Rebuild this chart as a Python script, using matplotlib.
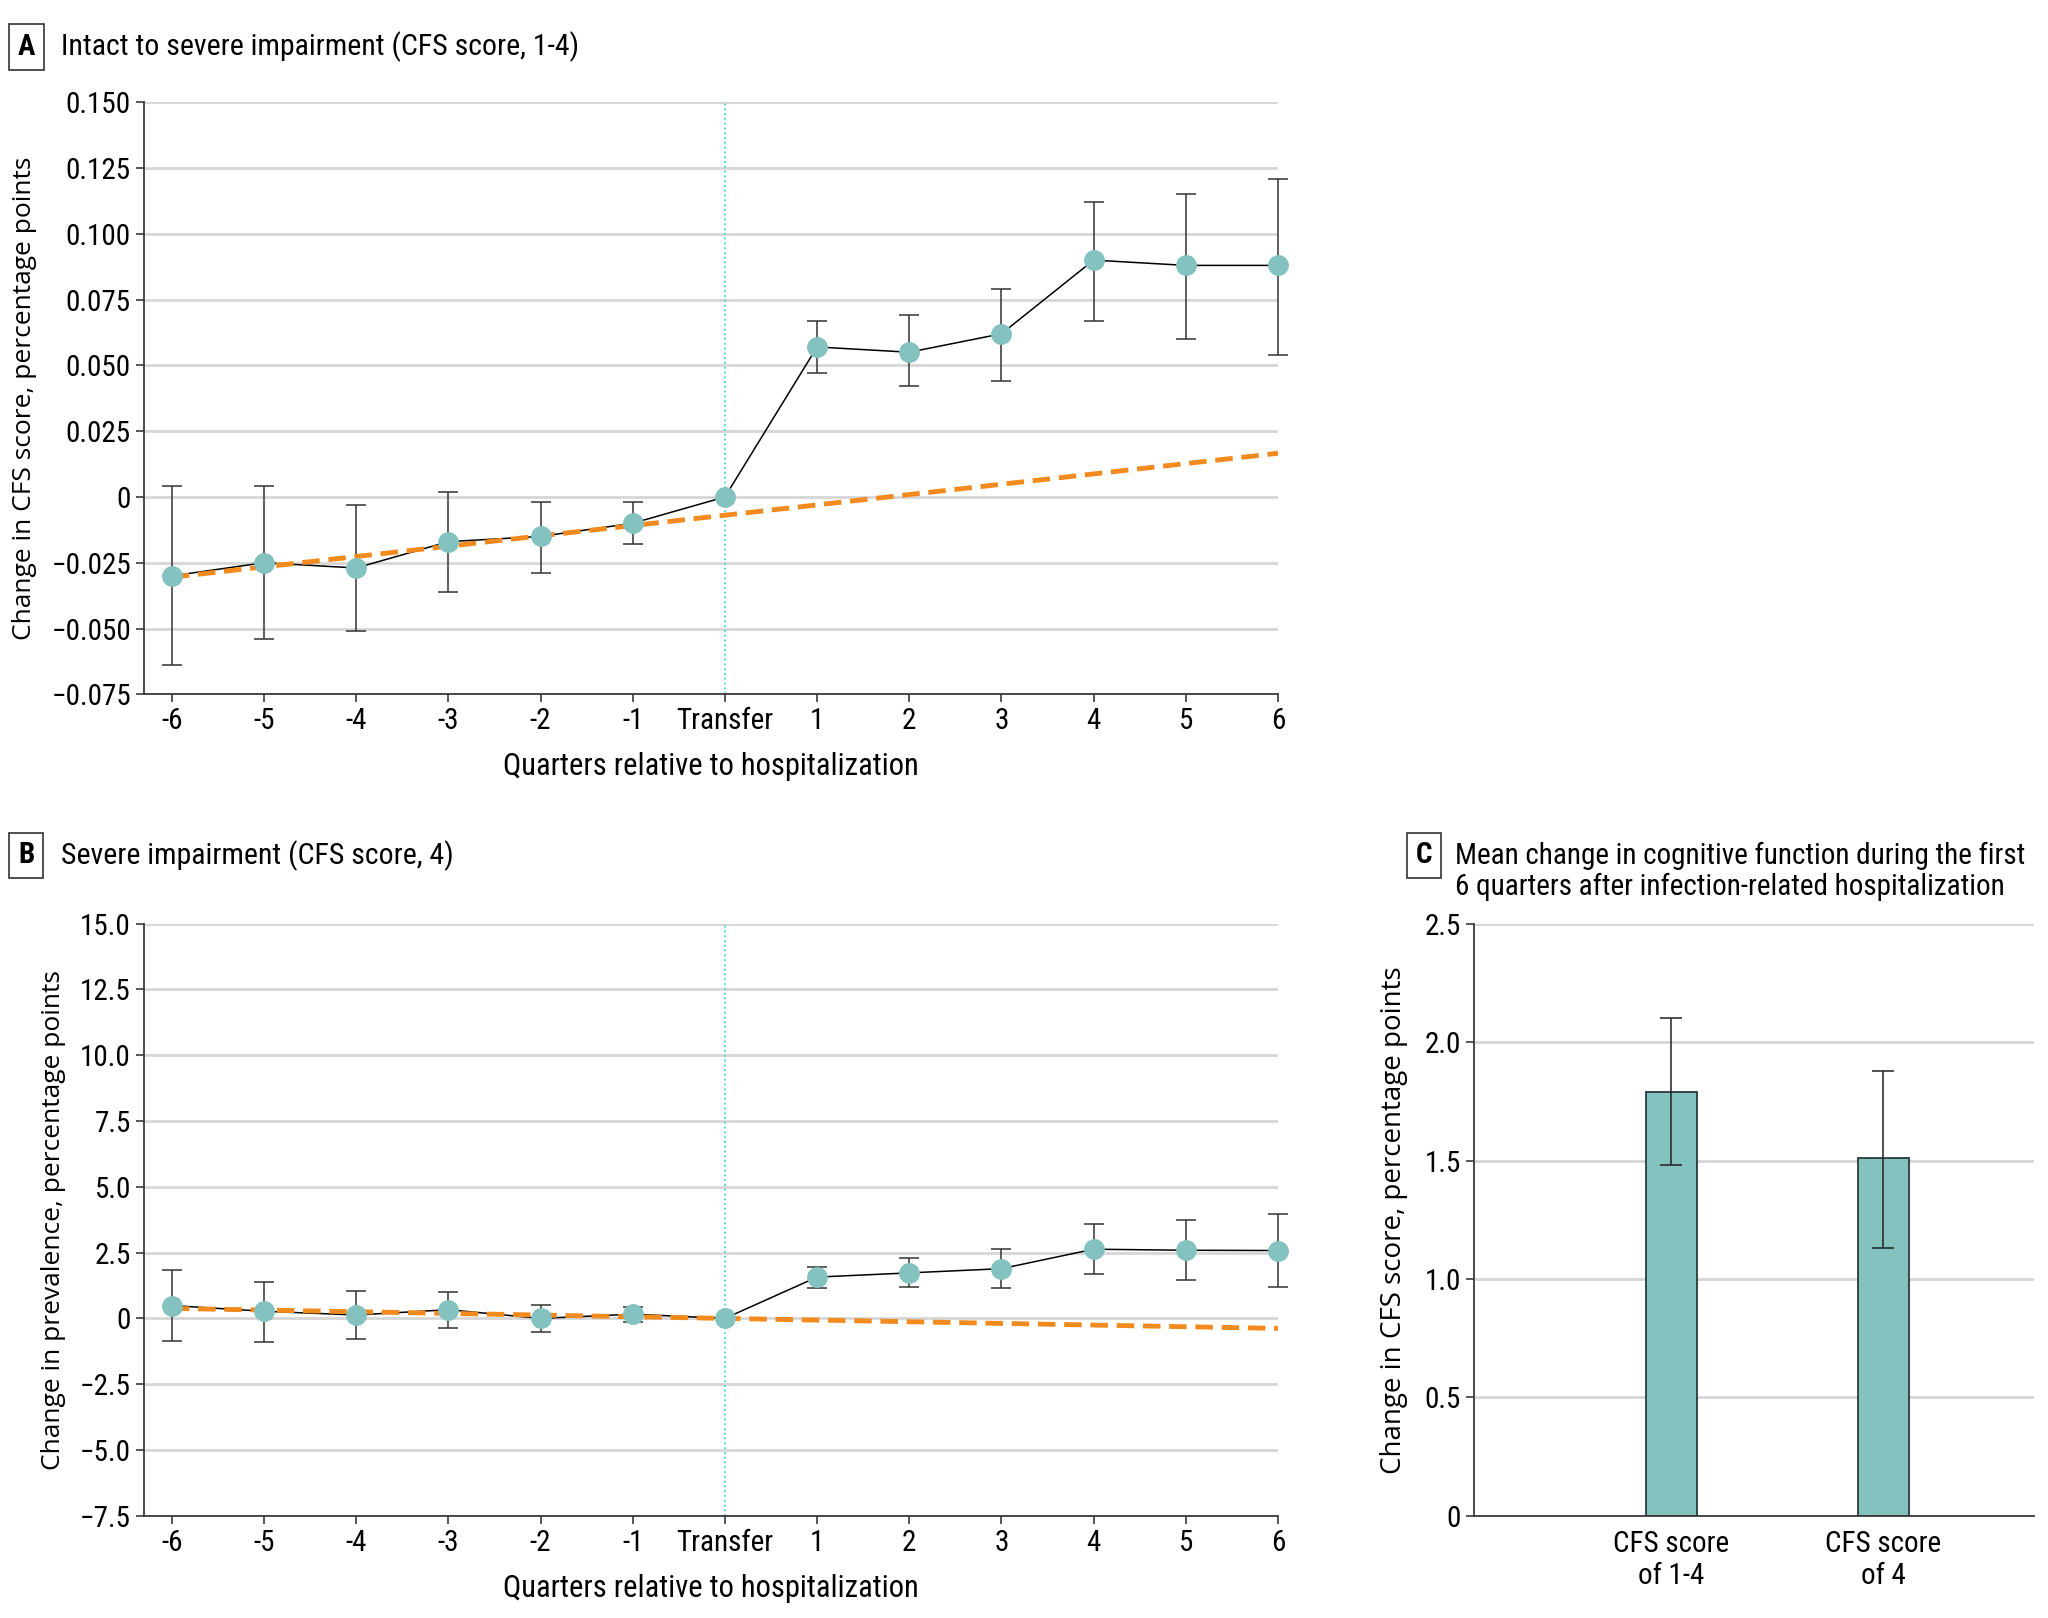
import matplotlib
matplotlib.use("Agg")
import matplotlib.pyplot as plt

plt.rcParams['font.family'] = ['Roboto Condensed', 'Fira Sans Condensed', 'Source Sans 3',
                               'Liberation Sans Narrow', 'DejaVu Sans']
WIDE = ['Open Sans', 'DejaVu Sans']

# quarters relative to hospitalization (0 = transfer)
quarters = [-6, -5, -4, -3, -2, -1, 0, 1, 2, 3, 4, 5, 6]
quarter_labels = ['-6', '-5', '-4', '-3', '-2', '-1', 'Transfer', '1', '2', '3', '4', '5', '6']

# panel A: CFS score 1-4
a_est = [-0.030, -0.025, -0.027, -0.017, -0.015, -0.010, 0.000, 0.057, 0.055, 0.062, 0.090, 0.088, 0.088]
a_low = [-0.064, -0.054, -0.051, -0.036, -0.029, -0.018, 0.000, 0.047, 0.042, 0.044, 0.067, 0.060, 0.054]
a_high = [0.004, 0.004, -0.003, 0.002, -0.002, -0.002, 0.000, 0.067, 0.069, 0.079, 0.112, 0.115, 0.121]
a_trend_x = [-6, 6]
a_trend_y = [-0.0305, 0.0166]
a_ticks = [-0.075, -0.050, -0.025, 0, 0.025, 0.050, 0.075, 0.100, 0.125, 0.150]
a_ticklabels = ['\u22120.075', '\u22120.050', '\u22120.025', '0', '0.025', '0.050', '0.075', '0.100', '0.125', '0.150']

# panel B: CFS score 4
b_est = [0.49, 0.27, 0.13, 0.33, 0.00, 0.16, 0.00, 1.57, 1.73, 1.89, 2.63, 2.59, 2.58]
b_low = [-0.86, -0.89, -0.80, -0.38, -0.51, -0.13, 0.00, 1.17, 1.18, 1.17, 1.69, 1.45, 1.21]
b_high = [1.85, 1.40, 1.05, 1.02, 0.51, 0.44, 0.00, 1.94, 2.30, 2.64, 3.58, 3.74, 3.96]
b_trend_x = [-6, 6]
b_trend_y = [0.38, -0.38]
b_ticks = [-7.5, -5.0, -2.5, 0, 2.5, 5.0, 7.5, 10.0, 12.5, 15.0]
b_ticklabels = ['\u22127.5', '\u22125.0', '\u22122.5', '0', '2.5', '5.0', '7.5', '10.0', '12.5', '15.0']

# panel C: mean change
c_labels = ['CFS score\nof 1-4', 'CFS score\nof 4']
c_means = [1.79, 1.51]
c_low = [1.48, 1.13]
c_high = [2.10, 1.88]
c_ticks = [0, 0.5, 1.0, 1.5, 2.0, 2.5]
c_ticklabels = ['0', '0.5', '1.0', '1.5', '2.0', '2.5']

teal = '#84c2bf'
orange = '#f28a1e'
grid_c = '#d6d6d6'
spine_c = '#3a3a3a'
FS = 21


def style_axes(ax):
    for s in ['top', 'right']:
        ax.spines[s].set_visible(False)
    for s in ['left', 'bottom']:
        ax.spines[s].set_color(spine_c)
        ax.spines[s].set_linewidth(1.3)
    ax.yaxis.grid(True, color=grid_c, linewidth=2)
    ax.set_axisbelow(True)
    ax.tick_params(axis='both', colors=spine_c, labelcolor='black', labelsize=FS,
                   length=6, width=1.2, direction='out')


def event_plot(ax, est, low, high, trend_x, trend_y, ticks, ticklabels, ylabel):
    style_axes(ax)
    ax.axvline(0, color='#3fd6d6', linestyle=':', linewidth=1.3, zorder=1)
    ax.plot(trend_x, trend_y, color=orange, linestyle=(0, (3.6, 1.8)), linewidth=3.5, zorder=3)
    ax.plot(quarters, est, color='black', linewidth=1.1, zorder=2)
    err_x = [q for q in quarters if q != 0]
    err_y = [e for q, e in zip(quarters, est) if q != 0]
    err_lo = [e - l for q, e, l in zip(quarters, est, low) if q != 0]
    err_hi = [h - e for q, e, h in zip(quarters, est, high) if q != 0]
    eb = ax.errorbar(err_x, err_y, yerr=[err_lo, err_hi], fmt='none', ecolor='#333333',
                     elinewidth=1.1, capsize=7, capthick=1.1, zorder=2)
    for art in eb.lines[1] + eb.lines[2]:
        art.set_clip_on(False)
    ax.plot(quarters, est, linestyle='none', marker='o', markersize=14,
            markerfacecolor=teal, markeredgecolor=teal, zorder=4, clip_on=False)
    ax.set_xlim(-6.3, 6)
    ax.set_ylim(ticks[0], ticks[-1])
    ax.set_yticks(ticks)
    ax.set_yticklabels(ticklabels)
    ax.set_xticks(quarters)
    ax.set_xticklabels(quarter_labels)
    ax.set_xlabel('Quarters relative to hospitalization', fontsize=FS + 1, labelpad=12)
    ax.set_ylabel(ylabel, fontsize=FS - 2, labelpad=10, family=WIDE)


fig = plt.figure(figsize=(20.48, 16.18), dpi=100)

ax_a = fig.add_axes([0.0704, 0.5709, 0.5536, 0.3659])
ax_b = fig.add_axes([0.0704, 0.0632, 0.5536, 0.3659])
ax_c = fig.add_axes([0.7198, 0.0632, 0.2732, 0.3659])

event_plot(ax_a, a_est, a_low, a_high, a_trend_x, a_trend_y, a_ticks, a_ticklabels,
           'Change in CFS score, percentage points')
event_plot(ax_b, b_est, b_low, b_high, b_trend_x, b_trend_y, b_ticks, b_ticklabels,
           'Change in prevalence, percentage points')

# panel C bars
style_axes(ax_c)
xpos = list(range(len(c_means)))
c_err = [[m - l for m, l in zip(c_means, c_low)], [h - m for m, h in zip(c_means, c_high)]]
ax_c.bar(xpos, c_means, width=0.24, color=teal, edgecolor='#2a3a3a', linewidth=1.3, zorder=2)
ax_c.errorbar(xpos, c_means, yerr=c_err, fmt='none', ecolor='#222222', elinewidth=1.1,
              capsize=8, capthick=1.1, zorder=3)
ax_c.set_xlim(-0.93, 1.71)
ax_c.set_ylim(0, 2.5)
ax_c.set_yticks(c_ticks)
ax_c.set_yticklabels(c_ticklabels)
ax_c.set_xticks(xpos)
ax_c.set_xticklabels(c_labels)
ax_c.tick_params(axis='x', length=0, pad=10)
ax_c.set_ylabel('Change in CFS score, percentage points', fontsize=FS - 1, labelpad=12,
                family=WIDE)

# panel headings
TFS = FS + 0.5
box = dict(boxstyle='square,pad=0.3', facecolor='white', edgecolor='#333333', linewidth=1.2)
fig.text(0.0128, 0.9709, 'A', fontsize=FS, fontweight='bold', ha='center', va='center', bbox=box)
fig.text(0.030, 0.9709, 'Intact to severe impairment (CFS score, 1-4)', fontsize=TFS,
         ha='left', va='center')
fig.text(0.0128, 0.4713, 'B', fontsize=FS, fontweight='bold', ha='center', va='center', bbox=box)
fig.text(0.030, 0.4713, 'Severe impairment (CFS score, 4)', fontsize=TFS,
         ha='left', va='center')
fig.text(0.6955, 0.4713, 'C', fontsize=FS, fontweight='bold', ha='center', va='center', bbox=box)
fig.text(0.7105, 0.4713, 'Mean change in cognitive function during the first', fontsize=FS,
         ha='left', va='center')
fig.text(0.7105, 0.4518, '6 quarters after infection-related hospitalization', fontsize=FS,
         ha='left', va='center')

fig.savefig('out.png', dpi=100)
